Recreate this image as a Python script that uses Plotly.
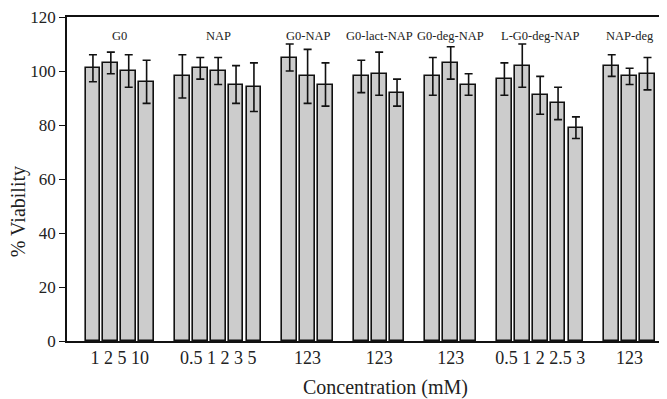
import plotly.graph_objects as go

groups = ["G0", "NAP", "G0-NAP", "G0-lact-NAP", "G0-deg-NAP", "L-G0-deg-NAP", "NAP-deg"]
group_ticks = ["1 2 5 10", "0.5 1 2 3 5", "123", "123", "123", "0.5 1 2 2.5 3", "123"]
values = [
    [101, 103, 100, 96],
    [98, 101, 100, 95, 94],
    [105, 98, 95],
    [98, 99, 92],
    [98, 103, 95],
    [97, 102, 91, 88, 79],
    [102, 98, 99],
]
errors = [
    [5, 4, 6, 8],
    [8, 4, 5, 7, 9],
    [5, 10, 8],
    [6, 8, 5],
    [7, 6, 4],
    [6, 8, 7, 6, 4],
    [4, 3, 6],
]
y_ticks = [0, 20, 40, 60, 80, 100, 120]

# slot positions: one empty slot between groups
xs, ys, es, centers = [], [], [], []
pos = 0
for vals, errs in zip(values, errors):
    start = pos
    for v, e in zip(vals, errs):
        xs.append(pos)
        ys.append(v)
        es.append(e)
        pos += 1
    centers.append((start + pos - 1) / 2)
    pos += 1

font = "Liberation Serif, Times New Roman, serif"
ink = "#222"

# page has an 8px body margin; figure sized to end at the window edge
W, H = 659, 391
ML, MR, MT, MB = 59, 0, 6, 58
PW, PH = W - ML - MR, H - MT - MB

fig = go.Figure()
fig.add_trace(go.Bar(
    x=xs, y=ys, width=0.83,
    marker=dict(color="#cccccc", line=dict(color="#111111", width=1.6)),
    error_y=dict(type="data", array=es, visible=True, color="#111111",
                 thickness=1.6, width=4),
    showlegend=False,
))

for g, c in zip(groups, centers):
    fig.add_annotation(x=c, y=113, text=g, showarrow=False, xref="x", yref="y",
                       font=dict(family=font, size=12.5, color=ink))

# y title
fig.add_annotation(x=(10 - ML) / PW, y=(MT + PH - 203) / PH, xref="paper", yref="paper",
                   text="% Viability", showarrow=False, textangle=-90,
                   xanchor="center", yanchor="middle",
                   font=dict(family=font, size=20, color=ink))
# x title
fig.add_annotation(x=(377 - ML) / PW, y=(MT + PH - 380) / PH, xref="paper", yref="paper",
                   text="Concentration (mM)", showarrow=False,
                   xanchor="center", yanchor="middle",
                   font=dict(family=font, size=20, color=ink))

fig.update_layout(
    width=W, height=H,
    margin=dict(l=ML, r=MR, t=MT, b=MB),
    plot_bgcolor="white", paper_bgcolor="white",
    bargap=0,
    xaxis=dict(range=[-1.45, 32.09], tickvals=centers, ticktext=group_ticks,
               showgrid=False, zeroline=False, showline=True, linecolor="#111",
               linewidth=1.6, mirror=True, ticks="", ticklen=0,
               tickfont=dict(family=font, size=18, color=ink)),
    yaxis=dict(range=[0, 120], tickvals=y_ticks, showgrid=False, zeroline=False,
               showline=True, linecolor="#111", linewidth=1.6,
               ticks="outside", ticklen=6, tickwidth=1.4, tickcolor="#111",
               ticklabeloverflow="allow",
               tickfont=dict(family=font, size=17, color=ink)),
)

fig.write_html("out.html")
